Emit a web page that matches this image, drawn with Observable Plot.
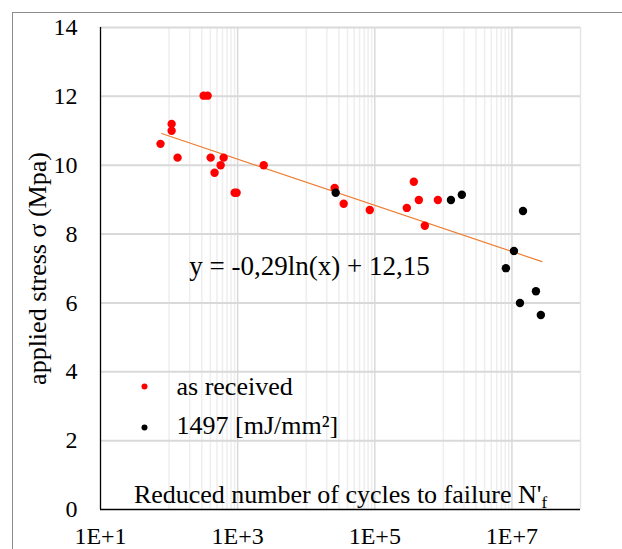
<!DOCTYPE html>
<html>
<head>
<meta charset="utf-8">
<script src="https://cdn.jsdelivr.net/npm/d3@7"></script>
<script src="https://cdn.jsdelivr.net/npm/@observablehq/plot@0.6"></script>
<style>
  html, body { margin: 0; padding: 0; background: #fff; }
  #wrap { position: relative; width: 622px; height: 549px; overflow: hidden; }
  #frame { position: absolute; left: 12px; top: 12px; right: -2px; bottom: -2px;
           border-top: 1px solid #8c8c8c; border-left: 1px solid #8c8c8c; pointer-events: none; }
  svg { display: block; }
  svg text { font-family: "Liberation Serif", "Times New Roman", serif; }
</style>
</head>
<body>
<div id="wrap"><div id="chart"></div><div id="frame"></div></div>
<script>
// ---- data ----
const receivedCycles = [75, 109, 109, 133, 319, 365, 404, 461, 565, 625, 904, 966, 2400,
  26000, 35200, 84500, 293000, 371000, 439000, 537000, 832000];
const receivedStress = [10.62, 11.2, 11.0, 10.22, 12.02, 12.02, 10.22, 9.78, 10.0, 10.22, 9.2, 9.2, 10.0,
  9.34, 8.88, 8.70, 8.76, 9.52, 8.99, 8.24, 8.99];

const treatedCycles = [26900, 1.29e6, 1.86e6, 8.17e6, 1.07e7, 1.31e7, 1.45e7, 2.24e7, 2.64e7];
const treatedStress = [9.2, 8.99, 9.14, 7.01, 7.51, 6.0, 8.67, 6.34, 5.65];

// trendline end points (y = -0,29ln(x) + 12,15)
const trendCycles = [78, 2.74e7];
const trendStress = [10.92, 7.2];

const seriesNames = ["as received", "1497 [mJ/mm²]"];
const seriesColors = ["#ff0000", "#000000"];

const yTicks = [0, 2, 4, 6, 8, 10, 12, 14];
const xTicks = [10, 1e3, 1e5, 1e7];
const xTickLabels = ["1E+1", "1E+3", "1E+5", "1E+7"];

const equationText = "y = -0,29ln(x) + 12,15";
const equationAt = {x: 11200, y: 7.05};
const xTitle = "Reduced number of cycles to failure N'";
const xTitleSub = "f";
const yTitle = "applied stress σ (Mpa)";

// ---- tables ----
const received = receivedCycles.map((c, i) => ({c, s: receivedStress[i]}));
const treated = treatedCycles.map((c, i) => ({c, s: treatedStress[i]}));
const trend = trendCycles.map((c, i) => ({c, s: trendStress[i]}));

const minorGrid = [2, 4, 6].flatMap(n => d3.range(1, 10).map(k => k * Math.pow(10, n)));
const majorGrid = [1e3, 1e5, 1e7];

const serif = "Liberation Serif, Times New Roman, serif";

const chart = Plot.plot({
  width: 622,
  height: 549,
  marginLeft: 100,
  marginRight: 42,
  marginTop: 27,
  marginBottom: 40,
  x: {type: "log", domain: [10, 1e8], axis: null},
  y: {domain: [0, 14], axis: null},
  style: {fontFamily: serif, fontSize: "24px", color: "#000", background: "transparent", overflow: "visible"},
  marks: [
    Plot.ruleX(minorGrid, {stroke: "#eeeeee", strokeWidth: 1.5}),
    Plot.ruleX(majorGrid, {stroke: "#d9d9d9", strokeWidth: 1.5}),
    Plot.ruleX([1e8], {stroke: "#e6e6e6", strokeWidth: 1.5}),
    Plot.ruleY(yTicks.filter(d => d > 0), {stroke: "#d9d9d9", strokeWidth: 2}),
    Plot.ruleX([10], {stroke: "#000", strokeWidth: 1.3}),
    Plot.ruleY([0], {stroke: "#000", strokeWidth: 1.3}),
    Plot.line(trend, {x: "c", y: "s", stroke: "#ed7d31", strokeWidth: 1.1}),
    Plot.dot(received, {x: "c", y: "s", r: 4.2, fill: seriesColors[0]}),
    Plot.dot(treated, {x: "c", y: "s", r: 4.2, fill: seriesColors[1]}),
    // tick labels
    Plot.text(yTicks, {frameAnchor: "left", y: d => d, text: d => String(d), dx: -23, fontSize: 24, textAnchor: "end", lineAnchor: "middle"}),
    Plot.text(xTicks, {frameAnchor: "bottom", x: d => d, text: (d, i) => xTickLabels[i], dy: 27, fontSize: 24, textAnchor: "middle", lineAnchor: "middle"}),
    // titles
    Plot.text([yTitle], {frameAnchor: "left", dx: -63, rotate: -90, fontSize: 26, lineAnchor: "middle", textAnchor: "middle"}),
    Plot.text([xTitle], {frameAnchor: "bottom", dy: -15, fontSize: 26, lineAnchor: "middle", textAnchor: "middle"}),
    Plot.text([equationText], {x: () => equationAt.x, y: () => equationAt.y, fontSize: 27, lineAnchor: "middle", textAnchor: "middle"}),
    // legend
    Plot.dot([seriesNames[0]], {frameAnchor: "top-left", dx: 44, dy: 359, r: 3, fill: seriesColors[0]}),
    Plot.dot([seriesNames[1]], {frameAnchor: "top-left", dx: 44, dy: 400, r: 3, fill: seriesColors[1]}),
    Plot.text([seriesNames[0]], {frameAnchor: "top-left", dx: 76, dy: 359, fontSize: 26, textAnchor: "start", lineAnchor: "middle"}),
    Plot.text([seriesNames[1]], {frameAnchor: "top-left", dx: 76, dy: 398, fontSize: 26, textAnchor: "start", lineAnchor: "middle"})
  ]
});

// subscript f on the x title
d3.select(chart).selectAll("text").filter(function() { return this.textContent === xTitle; })
  .each(function() {
    const t = d3.select(this);
    t.text(null);
    t.append("tspan").text(xTitle);
    t.append("tspan").attr("font-size", 17).attr("dy", "0.3em").text(xTitleSub);
  });

document.getElementById("chart").appendChild(chart);
</script>
</body>
</html>
